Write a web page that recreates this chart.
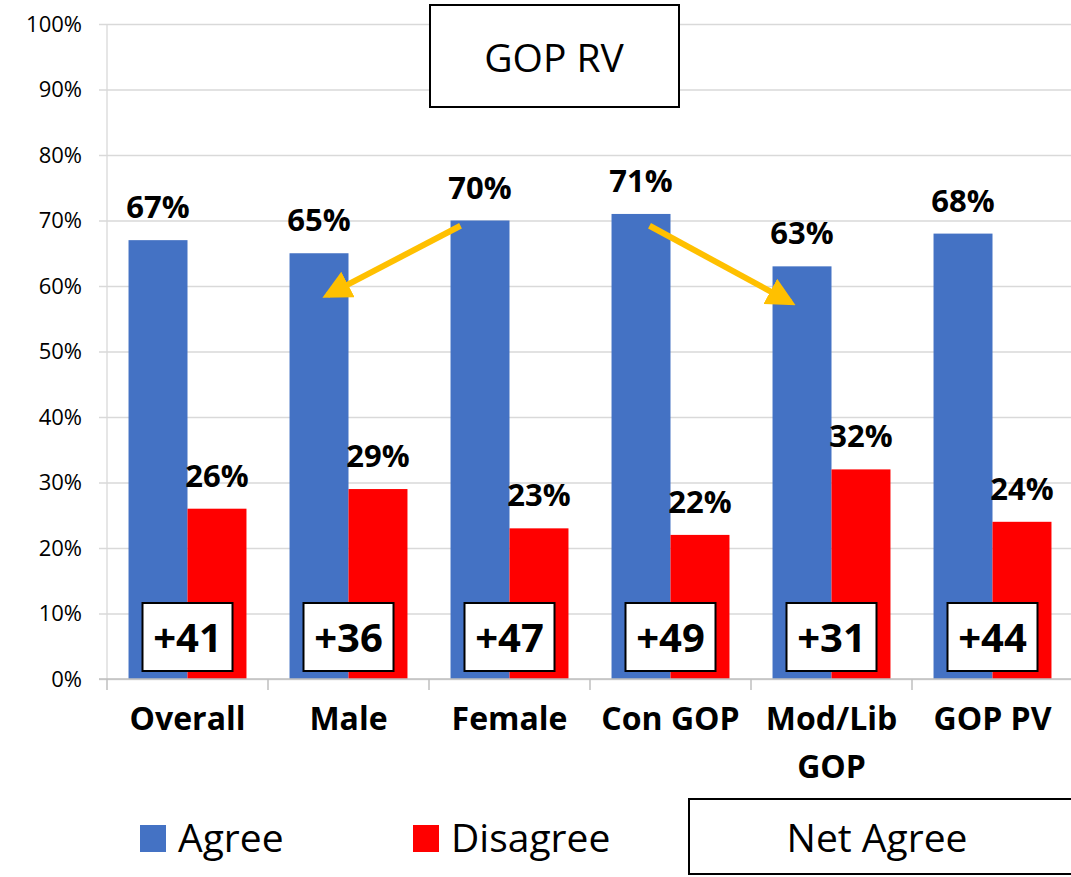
<!DOCTYPE html>
<html>
<head>
<meta charset="utf-8">
<script src="https://cdn.jsdelivr.net/npm/d3@7"></script>
<style>
  body { margin: 0; background: #fff; }
  svg { display: block; font-family: "Open Sans", sans-serif; }
</style>
</head>
<body>
<div id="chart"></div>
<script>
const categories = [["Overall"], ["Male"], ["Female"], ["Con GOP"], ["Mod/Lib", "GOP"], ["GOP PV"]];
const agree = [67, 65, 70, 71, 63, 68];
const disagree = [26, 29, 23, 22, 32, 24];
const netAgree = [41, 36, 47, 49, 31, 44];
const yTicks = [0, 10, 20, 30, 40, 50, 60, 70, 80, 90, 100];
const seriesNames = ["Agree", "Disagree"];
const colors = { Agree: "#4472C4", Disagree: "#FF0000" };

// arrows: [from category, from value, to category, to value]
const arrows = [
  [2, 69.2, 1, 58.6],
  [3, 69.2, 4, 57.5],
];

function draw() {
  const width = 1071;
  const height = 877;
  const margin = { left: 107, right: -2, top: 24, bottom: 198 };

  const svg = d3
    .select("#chart")
    .append("svg")
    .attr("width", width)
    .attr("height", height);

  const keys = categories.map((c) => c.join(" "));
  const rows = keys.map((k, i) => ({
    key: k,
    lines: categories[i],
    Agree: agree[i],
    Disagree: disagree[i],
    net: netAgree[i],
  }));

  const x0 = d3
    .scaleBand()
    .domain(keys)
    .range([margin.left, width - margin.right])
    .paddingInner(0)
    .paddingOuter(0);
  const x1 = d3
    .scaleBand()
    .domain(seriesNames)
    .range([0, x0.bandwidth()])
    .paddingInner(0)
    .paddingOuter(0.365);
  const y = d3
    .scaleLinear()
    .domain([0, 100])
    .range([height - margin.bottom, margin.top]);

  // gridlines + y labels
  const yAxis = svg
    .append("g")
    .attr("transform", `translate(${margin.left},0)`)
    .call(
      d3
        .axisLeft(y)
        .tickValues(yTicks)
        .tickSize(-(width - margin.left))
        .tickPadding(25)
        .tickFormat((d) => d + "%")
    );
  yAxis.select(".domain").remove();
  yAxis
    .selectAll(".tick line")
    .attr("x1", -8)
    .attr("stroke", "#d9d9d9")
    .attr("stroke-width", 1.3);
  yAxis
    .selectAll(".tick text")
    .attr("font-size", 22)
    .attr("fill", "#000")
    .attr("font-family", "Open Sans");

  svg
    .append("line")
    .attr("x1", margin.left)
    .attr("x2", margin.left)
    .attr("y1", y(100))
    .attr("y2", y(0))
    .attr("stroke", "#d9d9d9")
    .attr("stroke-width", 1.3);

  // bars
  const groups = svg
    .selectAll(".grp")
    .data(rows)
    .enter()
    .append("g")
    .attr("transform", (d) => `translate(${x0(d.key)},0)`);

  groups
    .selectAll("rect")
    .data((d) => seriesNames.map((s) => ({ s, v: d[s] })))
    .enter()
    .append("rect")
    .attr("x", (d) => x1(d.s))
    .attr("y", (d) => y(d.v))
    .attr("width", x1.bandwidth())
    .attr("height", (d) => y(0) - y(d.v))
    .attr("fill", (d) => colors[d.s]);

  groups
    .selectAll(".val")
    .data((d) => seriesNames.map((s) => ({ s, v: d[s] })))
    .enter()
    .append("text")
    .attr("x", (d) => x1(d.s) + x1.bandwidth() / 2)
    .attr("y", (d) => y(d.v) - 22)
    .attr("text-anchor", "middle")
    .attr("font-size", 31)
    .attr("font-weight", "bold")
    .text((d) => d.v + "%");

  // x axis
  const xAxis = svg
    .append("g")
    .attr("transform", `translate(0,${y(0)})`);
  xAxis
    .append("line")
    .attr("x1", margin.left - 8)
    .attr("x2", width)
    .attr("stroke", "#bfbfbf")
    .attr("stroke-width", 1.5);
  xAxis
    .selectAll(".xt")
    .data(keys.concat([null]))
    .enter()
    .append("line")
    .attr("x1", (d) => (d ? x0(d) : x0.range()[1]))
    .attr("x2", (d) => (d ? x0(d) : x0.range()[1]))
    .attr("y1", 0)
    .attr("y2", 11)
    .attr("stroke", "#bfbfbf")
    .attr("stroke-width", 1.5);

  const labels = xAxis
    .selectAll(".xl")
    .data(rows)
    .enter()
    .append("text")
    .attr("text-anchor", "middle")
    .attr("font-size", 32)
    .attr("font-weight", "bold")
    .attr("transform", (d) => `translate(${x0(d.key) + x0.bandwidth() / 2},51)`);
  labels
    .selectAll("tspan")
    .data((d) => d.lines)
    .enter()
    .append("tspan")
    .attr("x", 0)
    .attr("y", (d, i) => i * 48)
    .text((d) => d);

  // net agree boxes
  const netG = groups
    .append("g")
    .attr("transform", `translate(${x0.bandwidth() / 2},${y(0) - 42})`);
  netG
    .append("rect")
    .attr("x", -45)
    .attr("y", -34)
    .attr("width", 90)
    .attr("height", 68)
    .attr("fill", "#fff")
    .attr("stroke", "#000")
    .attr("stroke-width", 2);
  netG
    .append("text")
    .attr("text-anchor", "middle")
    .attr("y", 15)
    .attr("font-size", 40)
    .attr("font-weight", "bold")
    .text((d) => "+" + d.net);

  // arrows
  const defs = svg.append("defs");
  defs
    .append("marker")
    .attr("id", "head")
    .attr("viewBox", "0 0 10 10")
    .attr("refX", 8)
    .attr("refY", 5)
    .attr("markerWidth", 4.8)
    .attr("markerHeight", 4.8)
    .attr("markerUnits", "strokeWidth")
    .attr("orient", "auto")
    .append("path")
    .attr("d", "M0,0 L10,5 L0,10 Z")
    .attr("fill", "#FFC000");

  svg
    .selectAll(".arrow")
    .data(arrows)
    .enter()
    .append("line")
    .attr("x1", (d) => x0(keys[d[0]]) + x1("Agree") + (d[2] < d[0] ? 10 : 38))
    .attr("y1", (d) => y(d[1]))
    .attr("x2", (d) => x0(keys[d[2]]) + x1("Agree") + (d[2] < d[0] ? 38 : 18))
    .attr("y2", (d) => y(d[3]))
    .attr("stroke", "#FFC000")
    .attr("stroke-width", 6)
    .attr("marker-end", "url(#head)");

  // title box
  const title = svg.append("g");
  title
    .append("rect")
    .attr("x", 430)
    .attr("y", 5)
    .attr("width", 249)
    .attr("height", 102)
    .attr("fill", "#fff")
    .attr("stroke", "#000")
    .attr("stroke-width", 2);
  title
    .append("text")
    .attr("x", 554)
    .attr("y", 72)
    .attr("text-anchor", "middle")
    .attr("font-size", 39)
    .text("GOP RV");

  // legend
  const legend = svg.append("g");
  const legendX = [140, 413];
  seriesNames.forEach((s, i) => {
    legend
      .append("rect")
      .attr("x", legendX[i])
      .attr("y", 825)
      .attr("width", 26)
      .attr("height", 27)
      .attr("fill", colors[s]);
    legend
      .append("text")
      .attr("x", legendX[i] + 38)
      .attr("y", 852)
      .attr("font-size", 39)
      .text(s);
  });
  legend
    .append("rect")
    .attr("x", 689)
    .attr("y", 799)
    .attr("width", 400)
    .attr("height", 75)
    .attr("fill", "#fff")
    .attr("stroke", "#000")
    .attr("stroke-width", 2);
  legend
    .append("text")
    .attr("x", 877)
    .attr("y", 852)
    .attr("text-anchor", "middle")
    .attr("font-size", 39)
    .text("Net Agree");
}

window.addEventListener("load", draw);
</script>
</body>
</html>
